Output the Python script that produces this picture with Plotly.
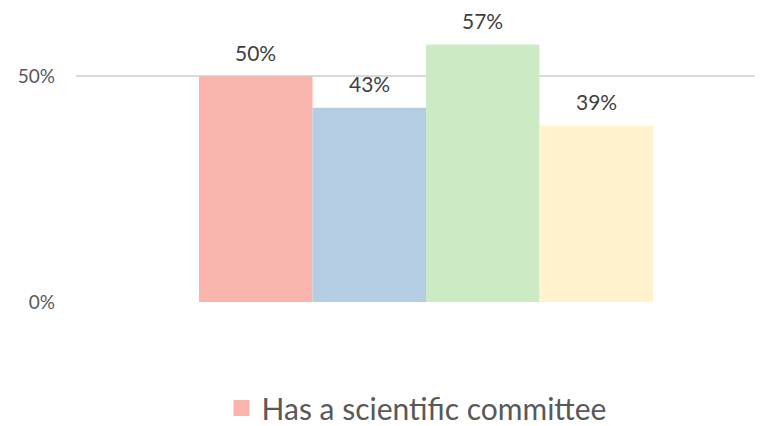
import plotly.graph_objects as go

series_names = ["Has a scientific committee", "Series 2", "Series 3", "Series 4"]
values = [0.50, 0.43, 0.57, 0.39]
labels = ["50%", "43%", "57%", "39%"]
colors = ["#FAB4AE", "#B4CDE3", "#CCEBC5", "#FFF2CC"]
positions = [0, 1, 2, 3]

fig = go.Figure()
for i, (name, v, c, x) in enumerate(zip(series_names, values, colors, positions)):
    fig.add_trace(go.Bar(
        x=[x], y=[v], width=1, name=name, marker=dict(color=c, line=dict(width=0)),
        showlegend=False, hoverinfo="skip", legendgroup=name,
    ))
    fig.add_annotation(x=x, y=v, text=labels[i], showarrow=False, yshift=24,
                       font=dict(size=21, color="#404040", family="Lato"))

# legend entry for the first series (square swatch)
fig.add_trace(go.Scatter(
    x=[None], y=[None], mode="markers", name=series_names[0], legendgroup=series_names[0],
    marker=dict(symbol="square", size=17, color=colors[0]), showlegend=True, hoverinfo="skip",
))

fig.update_layout(
    width=763, height=426,
    margin=dict(l=68, r=0, t=23, b=129),
    plot_bgcolor="white", paper_bgcolor="white",
    font=dict(family="Lato", color="#595959"),
    showlegend=True,
    legend=dict(orientation="h", x=0.49, xanchor="center", y=-0.295, yanchor="top",
                font=dict(size=30, color="#595959"), itemwidth=30, itemsizing="trace"),
    xaxis=dict(range=[-1.584, 4.54], showticklabels=False, showgrid=False, zeroline=False, fixedrange=True),
    yaxis=dict(range=[0, 0.60], tickvals=[0, 0.5], tickformat=".0%", showgrid=True,
               gridcolor="#D9D9D9", gridwidth=2, zeroline=False, tickfont=dict(size=19, color="#595959"),
               ticklabelstandoff=20),
)

fig.write_html("out.html")
